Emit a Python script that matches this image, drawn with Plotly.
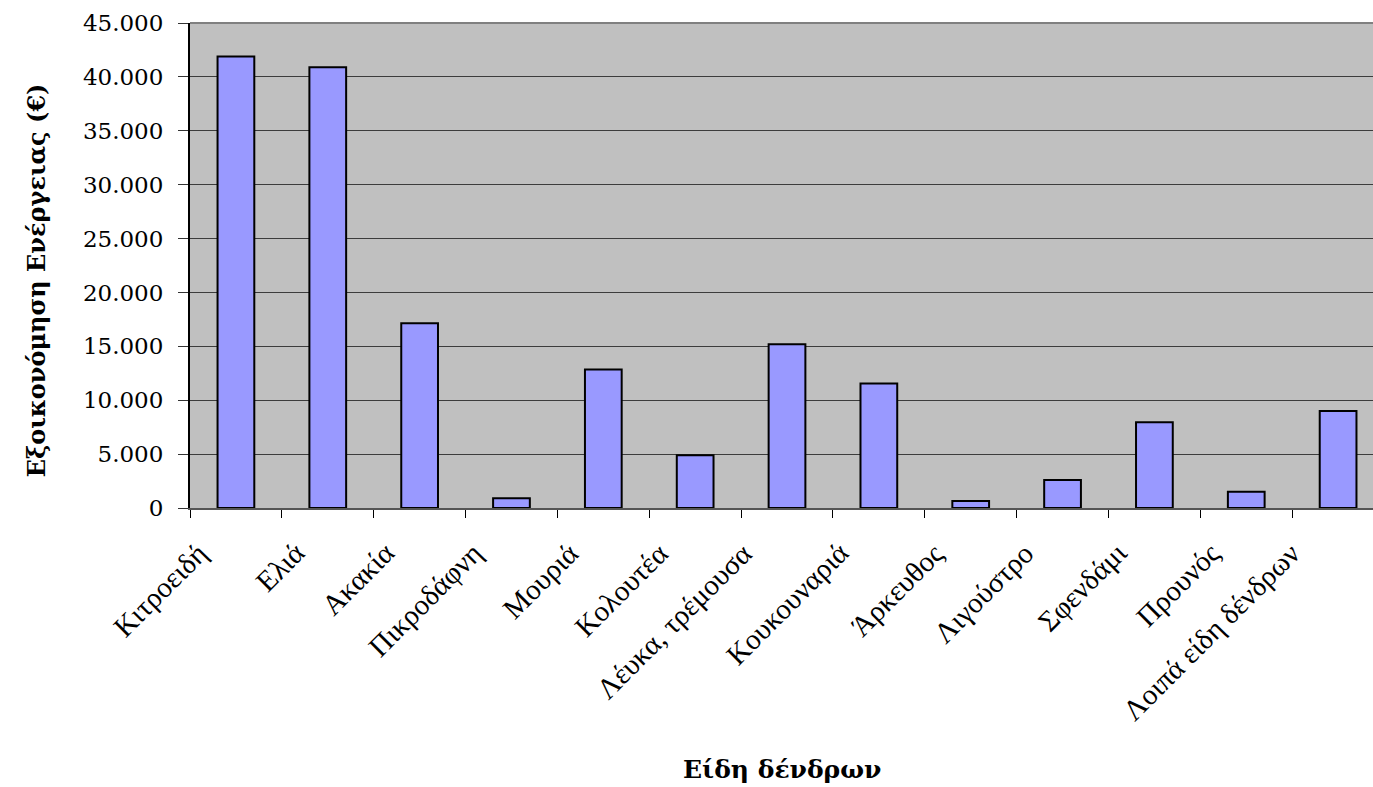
import plotly.graph_objects as go

# Tree species and the yearly energy savings attributed to each (EUR)
species = [
    "Κιτροειδή", "Ελιά", "Ακακία", "Πικροδάφνη", "Μουριά", "Κολουτέα",
    "Λέυκα, τρέμουσα", "Κουκουναριά", "Άρκευθος", "Λιγούστρο", "Σφενδάμι",
    "Προυνός", "Λοιπά είδη δένδρων",
]
savings = [41900, 40900, 17150, 900, 12850, 4900, 15200, 11550, 650, 2600, 7950, 1500, 9000]
y_ticks = [0, 5000, 10000, 15000, 20000, 25000, 30000, 35000, 40000, 45000]

positions = list(range(len(species)))
# tick marks sit on the boundaries between categories
boundaries = [p - 0.5 for p in range(len(species) + 1)]

fig = go.Figure(
    go.Bar(
        x=positions,
        y=savings,
        marker=dict(color="#9999FF", line=dict(color="#000000", width=2)),
        width=0.40,
    )
)

fig.update_layout(
    width=1373,
    height=787,
    margin=dict(l=190, r=0, t=23, b=279),
    paper_bgcolor="#FFFFFF",
    plot_bgcolor="#C0C0C0",
    separators=",.",
    showlegend=False,
    font=dict(family="DejaVu Serif", color="#000000"),
)

fig.update_xaxes(
    range=[-0.5, 12.38],
    tickmode="array",
    tickvals=boundaries,
    showticklabels=False,
    ticks="outside",
    ticklen=8,
    tickwidth=1,
    tickcolor="#000000",
    showgrid=False,
    showline=True,
    linecolor="#555555",
    linewidth=2,
    zeroline=False,
)

fig.update_yaxes(
    range=[0, 45000],
    tickmode="array",
    tickvals=y_ticks,
    tickformat=",d",
    ticks="outside",
    ticklen=10,
    tickwidth=1,
    tickcolor="#333333",
    tickfont=dict(family="DejaVu Serif", size=23, color="#000000"),
    ticklabelstandoff=10,
    showgrid=True,
    gridcolor="#3c3c3c",
    gridwidth=1,
    showline=True,
    linecolor="#000000",
    linewidth=2,
    zeroline=False,
)

# Upper edge of the plotting area
fig.add_shape(
    type="line", xref="paper", yref="paper",
    x0=0, x1=1, y0=1, y1=1,
    line=dict(color="#808080", width=2),
)

# Slanted category labels below each bar; longer labels lean a bit further left
for pos, name in zip(positions, species):
    fig.add_annotation(
        x=pos, y=0, xref="x", yref="y",
        text=name, textangle=-45,
        xanchor="right", yanchor="top",
        xshift=-10 - 1.1 * len(name), yshift=-26,
        showarrow=False,
        font=dict(family="Liberation Serif", size=29, color="#000000"),
    )

# Axis titles
fig.add_annotation(
    text="<b>Εξοικονόμηση Ενέργειας (€)</b>",
    xref="paper", yref="paper",
    x=-0.13, y=0.47, xanchor="center", yanchor="middle",
    textangle=-90, showarrow=False,
    font=dict(family="DejaVu Serif", size=24, color="#000000"),
)
fig.add_annotation(
    text="<b>Είδη δένδρων</b>",
    xref="paper", yref="paper",
    x=0.5, y=-0.54, xanchor="center", yanchor="middle",
    showarrow=False,
    font=dict(family="DejaVu Serif", size=25, color="#000000"),
)

fig.write_html("out.html")
